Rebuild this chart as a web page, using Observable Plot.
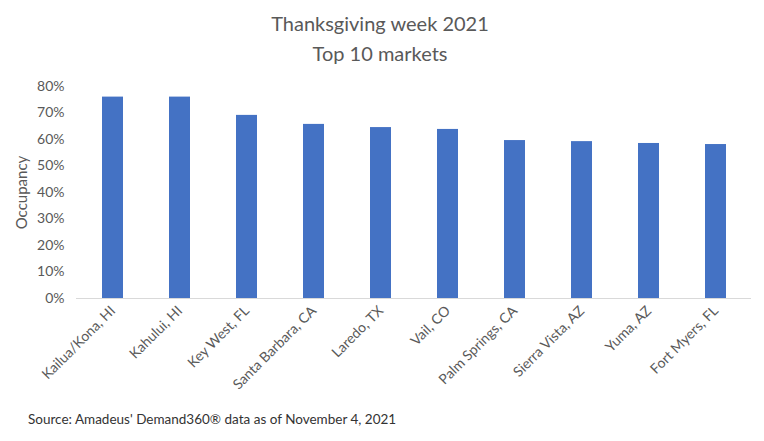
<!DOCTYPE html>
<html>
<head>
<meta charset="utf-8">
<script src="https://cdn.jsdelivr.net/npm/d3@7"></script>
<script src="https://cdn.jsdelivr.net/npm/@observablehq/plot@0.6"></script>
<style>
  html, body { margin: 0; padding: 0; background: #fff; }
  #wrap { width: 764px; height: 441px; overflow: hidden; font-family: Lato, "Open Sans", sans-serif; }
  #title { height: 72px; box-sizing: border-box; padding-top: 8px; text-align: center; width: 760px;
           font-size: 20px; line-height: 30px; color: #595959; }
  #caption { padding-left: 28px; font-size: 13.5px; line-height: 18px; color: #333; }
  svg { display: block; }
</style>
</head>
<body>
<div id="wrap">
  <div id="title">Thanksgiving week 2021<br>Top 10 markets</div>
  <div id="chart"></div>
  <div id="caption">Source: Amadeus' Demand360® data as of November 4, 2021</div>
</div>
<script>
const markets = ["Kailua/Kona, HI", "Kahului, HI", "Key West, FL", "Santa Barbara, CA", "Laredo, TX",
                 "Vail, CO", "Palm Springs, CA", "Sierra Vista, AZ", "Yuma, AZ", "Fort Myers, FL"];
const occupancy = [0.760, 0.760, 0.691, 0.657, 0.645, 0.638, 0.596, 0.592, 0.585, 0.581];
const yTicks = [0, 0.1, 0.2, 0.3, 0.4, 0.5, 0.6, 0.7, 0.8];
const yLabel = "Occupancy";

const data = markets.map((m, i) => ({market: m, value: occupancy[i]}));

const chart = Plot.plot({
  width: 764,
  height: 338,
  marginTop: 14,
  marginBottom: 112,
  marginLeft: 76,
  marginRight: 13,
  style: {fontFamily: "Lato, 'Open Sans', sans-serif", fontSize: "14px", color: "#595959", background: "transparent"},
  x: {domain: markets, paddingInner: 0.69, paddingOuter: 0.345, label: null},
  y: {domain: [0, 0.8], label: null},
  marks: [
    Plot.barY(data, {x: "market", y: "value", fill: "#4472C4"}),
    Plot.ruleY([0], {stroke: "#d9d9d9", strokeWidth: 1}),
    Plot.axisY({ticks: yTicks, tickFormat: d3.format(".0%"), tickSize: 0, tickPadding: 12,
                label: null, fontSize: 14}),
    Plot.text([yLabel], {frameAnchor: "left", textAnchor: "middle", rotate: -90, dx: -54, fontSize: 15, fill: "#595959"}),
    Plot.axisX({tickSize: 0, tickRotate: -45, tickPadding: 10, fontSize: 14, label: null})
  ]
});
document.getElementById("chart").appendChild(chart);
</script>
</body>
</html>
